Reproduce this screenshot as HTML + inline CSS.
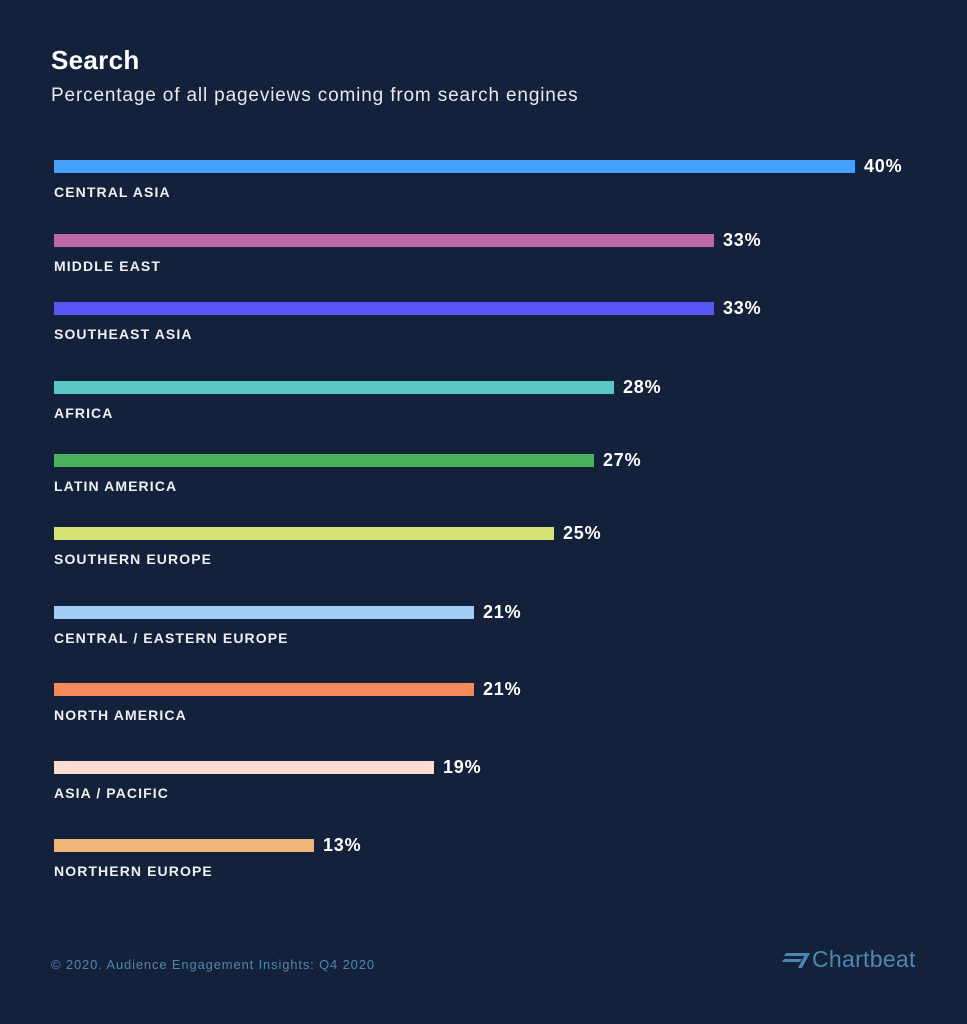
<!DOCTYPE html>
<html><head><style>
body{margin:0;width:967px;height:1024px;background:#13223a;font-family:"Liberation Sans",sans-serif;position:relative;overflow:hidden;color:#fff}
.t{position:absolute;left:51px;top:45px;font-size:26px;font-weight:bold;letter-spacing:0.3px}
.s{position:absolute;left:51px;top:85px;font-size:19px;color:#e6e9ee;letter-spacing:0.85px}
.bar{position:absolute;left:54px;height:13px}
.lab{position:absolute;left:54px;font-size:14px;font-weight:bold;letter-spacing:1.1px;color:#eef0f3}
.v{position:absolute;font-size:18px;font-weight:bold;letter-spacing:0.8px}
.f{position:absolute;left:51px;top:957px;font-size:13px;color:#4f86ad;letter-spacing:0.85px}
.cb{position:absolute;left:812px;top:946px;font-size:23px;color:#4f86ad;letter-spacing:0.3px}
</style></head><body>
<div class="t">Search</div>
<div class="s">Percentage of all pageviews coming from search engines</div>

<div class="bar" style="top:160px;width:801px;background:#45a0f9"></div><div class="v" style="top:156px;left:864px">40%</div><div class="lab" style="top:184px">CENTRAL ASIA</div>
<div class="bar" style="top:234px;width:660px;background:#bd68a4"></div><div class="v" style="top:230px;left:723px">33%</div><div class="lab" style="top:258px">MIDDLE EAST</div>
<div class="bar" style="top:302px;width:660px;background:#5755f5"></div><div class="v" style="top:298px;left:723px">33%</div><div class="lab" style="top:326px">SOUTHEAST ASIA</div>
<div class="bar" style="top:381px;width:560px;background:#5ac7c6"></div><div class="v" style="top:377px;left:623px">28%</div><div class="lab" style="top:405px">AFRICA</div>
<div class="bar" style="top:454px;width:540px;background:#4cb15f"></div><div class="v" style="top:450px;left:603px">27%</div><div class="lab" style="top:478px">LATIN AMERICA</div>
<div class="bar" style="top:527px;width:500px;background:#d6e276"></div><div class="v" style="top:523px;left:563px">25%</div><div class="lab" style="top:551px">SOUTHERN EUROPE</div>
<div class="bar" style="top:606px;width:420px;background:#a2cdf5"></div><div class="v" style="top:602px;left:483px">21%</div><div class="lab" style="top:630px">CENTRAL / EASTERN EUROPE</div>
<div class="bar" style="top:683px;width:420px;background:#f68a5e"></div><div class="v" style="top:679px;left:483px">21%</div><div class="lab" style="top:707px">NORTH AMERICA</div>
<div class="bar" style="top:761px;width:380px;background:#fcdcd0"></div><div class="v" style="top:757px;left:443px">19%</div><div class="lab" style="top:785px">ASIA / PACIFIC</div>
<div class="bar" style="top:839px;width:260px;background:#eeb778"></div><div class="v" style="top:835px;left:323px">13%</div><div class="lab" style="top:863px">NORTHERN EUROPE</div>

<div class="f">© 2020. Audience Engagement Insights: Q4 2020</div>
<svg style="position:absolute;left:782px;top:951px" width="30" height="18"><g fill="#4f86ad"><polygon points="4,2 28,2 26,5 2,5"/><polygon points="2,8 20,8 18,11 0,11"/><polygon points="28,2 24,2 16,17 20,17"/></g></svg>
<div class="cb">Chartbeat</div>
</body></html>
